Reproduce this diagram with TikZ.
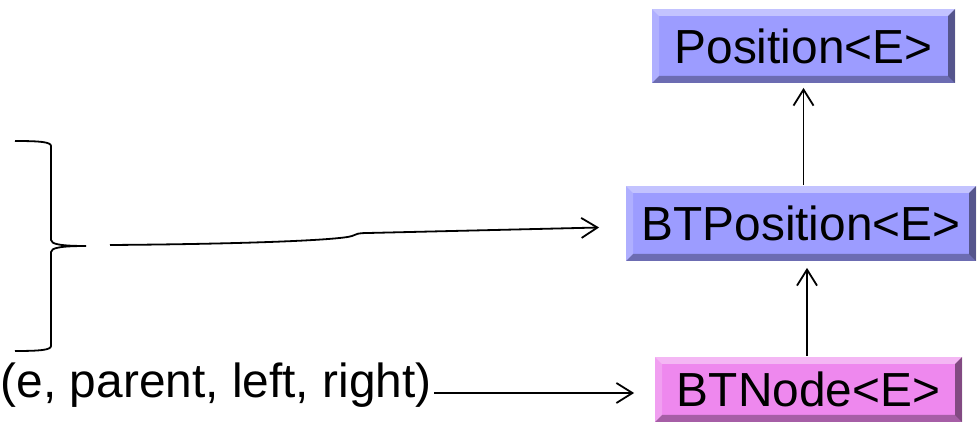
\documentclass[tikz,border=0pt]{standalone}
\usepackage{fontspec}
\setmainfont{Liberation Sans}
\usetikzlibrary{arrows.meta}
\definecolor{posfill}{RGB}{156,156,255}
\definecolor{nodefill}{RGB}{238,136,238}
\newcommand{\boxfont}{\fontsize{48}{57}\selectfont}
\def\bev{7bp}
\tikzset{
  classbox/.style={fill=#1, inner sep=0pt, font=\boxfont, path picture={
    \coordinate (bbnw) at (path picture bounding box.north west);
    \coordinate (bbse) at (path picture bounding box.south east);
    \coordinate (bbne) at (bbse |- bbnw);
    \coordinate (bbsw) at (bbnw |- bbse);
    \fill[white,opacity=.4] (bbnw) -- (bbne) -- ([shift={(-\bev,-\bev)}]bbne) -- ([shift={(\bev,-\bev)}]bbnw) -- cycle;
    \fill[white,opacity=.2] (bbnw) -- ([shift={(\bev,-\bev)}]bbnw) -- ([shift={(\bev,\bev)}]bbsw) -- (bbsw) -- cycle;
    \fill[black,opacity=.45] (bbne) -- (bbse) -- ([shift={(-\bev,\bev)}]bbse) -- ([shift={(-\bev,-\bev)}]bbne) -- cycle;
    \fill[black,opacity=.3] (bbsw) -- (bbse) -- ([shift={(-\bev,\bev)}]bbse) -- ([shift={(\bev,\bev)}]bbsw) -- cycle;
  }},
}
\begin{document}
\begin{tikzpicture}[>={Straight Barb[length=16bp,width=20bp]},line join=bevel,line width=1.8bp]
\useasboundingbox (0bp,0bp) rectangle (978bp,430bp);
%%
  % Node: Position
  \node[classbox=posfill, minimum width=303bp, minimum height=74bp] (Position) at (803.5bp,384bp) {Position<E>};
  % Node: BTPosition
  \node[classbox=posfill, minimum width=350bp, minimum height=75bp] (BTPosition) at (801bp,206.5bp) {BTPosition<E>};
  % Node: BTNode
  \node[classbox=nodefill, minimum width=307bp, minimum height=65bp] (BTNode) at (808.5bp,40.5bp) {BTNode<E>};
  % Node: args
  \node[anchor=west, inner sep=0pt, font=\boxfont] (args) at (0bp,45bp) {(e, parent, left, right)};
  % Brace
  \draw (15bp,289bp) .. controls (40bp,289bp) and (51bp,288bp) .. (51bp,284bp) -- (51bp,190bp) .. controls (51bp,186bp) and (60bp,184bp) .. (86bp,184bp);
  \draw (86bp,184bp) .. controls (60bp,184bp) and (51bp,182bp) .. (51bp,178bp) -- (51bp,84bp) .. controls (51bp,80bp) and (40bp,79bp) .. (15bp,79bp);
  \coordinate (braceout) at (110bp,185bp);
%
  % Edge: braceout -> BTPosition
  \draw [->] (braceout) .. controls (250bp,186bp) and (340bp,190bp) .. (352bp,194bp) .. controls (356bp,196bp) and (358bp,197bp) .. (368bp,197bp) -- ([xshift=-26bp,yshift=-4bp]BTPosition.west);
  % Edge: args -> BTNode
  \draw [->] ([xshift=2bp,yshift=-8bp]args.east) -- ([xshift=-20bp,yshift=-3.5bp]BTNode.west);
  % Edge: BTPosition -> Position
  \draw [->] (BTPosition.north -| Position.south) -- ([yshift=-4bp]Position.south);
  % Edge: BTNode -> BTPosition
  \draw [->] ([xshift=-1.5bp]BTNode.north) -- ([xshift=-1.5bp,yshift=-6bp]BTNode.north |- BTPosition.south);
%
\end{tikzpicture}
\end{document}
